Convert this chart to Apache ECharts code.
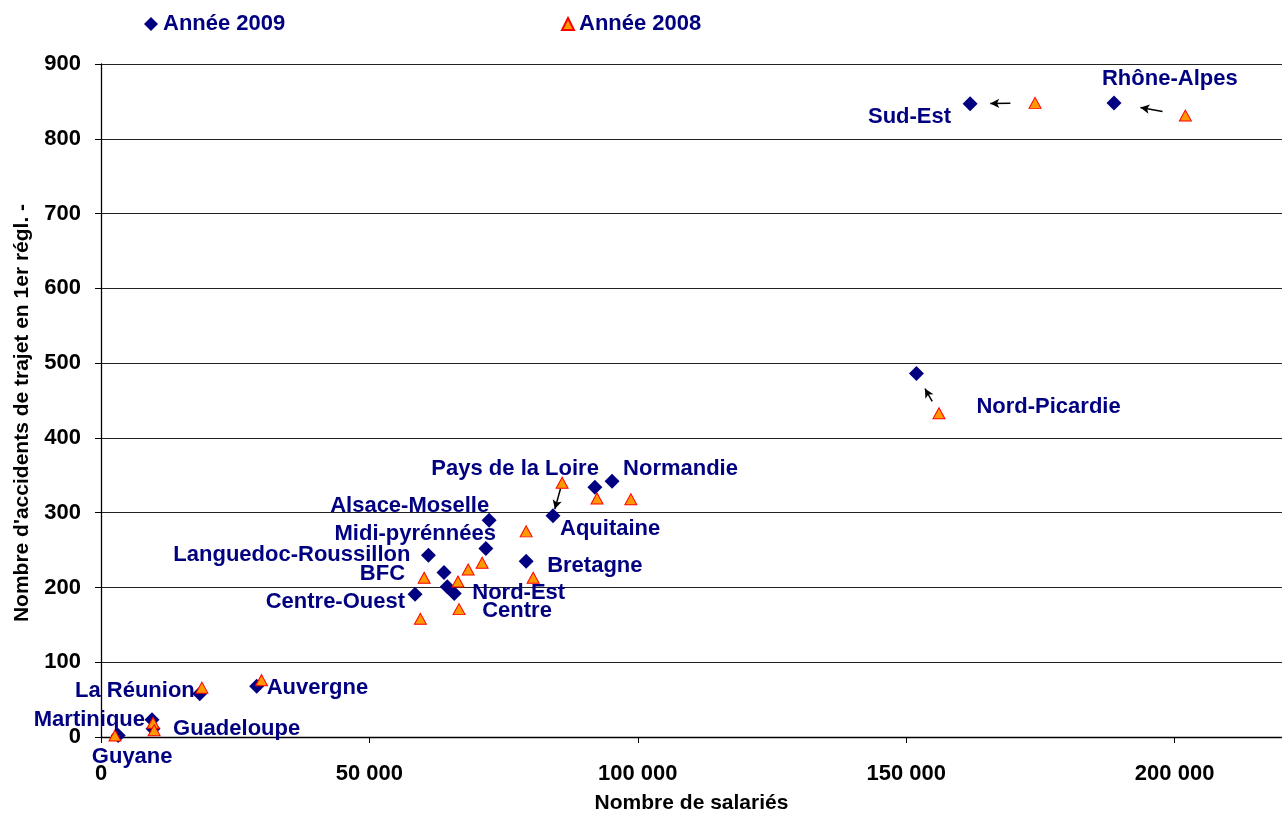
<!DOCTYPE html>
<html>
<head>
<meta charset="utf-8">
<title>Accidents de trajet</title>
<script src="https://cdn.jsdelivr.net/npm/echarts@6.0.0/dist/echarts.min.js"></script>
<style>
  html, body { margin: 0; padding: 0; background: #fff; }
  #chart { width: 1282px; height: 814px; }
</style>
</head>
<body>
<div id="chart"></div>
<script>
// régions (même ordre dans toutes les listes)
const regions = ['Rhône-Alpes', 'Sud-Est', 'Nord-Picardie', 'Normandie', 'Pays de la Loire',
  'Aquitaine', 'Alsace-Moselle', 'Midi-pyrénnées', 'Languedoc-Roussillon', 'BFC',
  'Nord-Est', 'Centre', 'Centre-Ouest', 'Bretagne', 'La Réunion',
  'Auvergne', 'Martinique', 'Guadeloupe', 'Guyane'];

// année 2009
const salaries2009 = [188700, 161900, 151900, 95200, 92000, 84200, 72300, 71700, 61000, 63900,
  64500, 65800, 58500, 79200, 18400, 29000, 9500, 9700, 3200];
const accidents2009 = [848, 847, 486, 342, 334, 296, 290, 252, 243, 220,
  201, 192, 191, 235, 58, 68, 23, 11, 2];

// année 2008
const salaries2008 = [202000, 174000, 156100, 98700, 92400, 85900, 79200, 71000, 60200, 68400,
  66500, 66700, 59500, 80500, 18800, 29900, 9700, 9900, 2600];
const accidents2008 = [831, 848, 433, 318, 319, 340, 275, 233, 213, 224,
  208, 171, 158, 213, 66, 76, 19, 9, 2];

const xTicks = [0, 50000, 100000, 150000, 200000];

// flèches 2008 -> 2009 : [indice région, début, fin] (fraction du trajet)
const arrows = [[0, 0.32, 0.63], [1, 0.38, 0.69], [2, 0.3, 0.62], [5, 0.18, 0.8]];

// placement des étiquettes autour du losange 2009 : [align, dx, dy]
const labelPlaces = [
  ['left', -12, -24], ['right', -19, 13], ['left', 60, 33], ['left', 11, -12], ['right', 4, -18],
  ['left', 7, 13], ['right', 0, -14], ['right', 10, -15], ['right', -18, 0], ['right', -39, 1],
  ['left', 25, 6], ['left', 28, 18], ['right', -10, 8], ['left', 21, 5], ['right', -5, -3],
  ['left', 10, 2], ['right', -7, 0], ['left', 20, 0], ['center', 14, 21]
];

const FONT = 'Liberation Sans, Arial, sans-serif';
const NAVY = '#000080';

const fmt = v => String(v).replace(/\B(?=(\d{3})+(?!\d))/g, ' ');

const pts2009 = regions.map((r, i) => [salaries2009[i], accidents2009[i]]);
const pts2008 = regions.map((r, i) => [salaries2008[i], accidents2008[i]]);

const arrowLines = arrows.map(([i, t0, t1]) => {
  const a = pts2008[i], b = pts2009[i];
  const at = t => [a[0] + (b[0] - a[0]) * t, a[1] + (b[1] - a[1]) * t];
  return [{ coord: at(t0) }, { coord: at(t1) }];
});

// symbole de 2 px : la position [dx, dy] part du coin haut-gauche (centre - 1)
const labelData = regions.map((name, i) => ({
  name: name,
  value: pts2009[i],
  label: {
    position: [labelPlaces[i][1] + 1, labelPlaces[i][2] + 1],
    align: labelPlaces[i][0]
  }
}));

const chart = echarts.init(document.getElementById('chart'), null, { renderer: 'canvas' });
chart.setOption({
  animation: false,
  backgroundColor: '#fff',
  textStyle: { fontFamily: FONT },
  legend: [
    {
      data: ['Année 2009'],
      left: 139, top: 8,
      itemWidth: 14, itemHeight: 14,
      selectedMode: false,
      textStyle: { color: NAVY, fontWeight: 'bold', fontSize: 22, fontFamily: FONT }
    },
    {
      data: ['Année 2008'],
      left: 556, top: 8,
      itemWidth: 12, itemHeight: 12,
      selectedMode: false,
      textStyle: { color: NAVY, fontWeight: 'bold', fontSize: 22, fontFamily: FONT }
    }
  ],
  grid: { left: 101, right: 0, top: 64, bottom: 77, containLabel: false, outerBoundsMode: 'none' },
  xAxis: {
    type: 'value',
    min: 0, max: 220000, interval: 50000,
    name: 'Nombre de salariés',
    nameLocation: 'middle',
    nameGap: 56,
    nameTextStyle: { color: '#000', fontWeight: 'bold', fontSize: 21, fontFamily: FONT, verticalAlign: 'top' },
    axisLine: { show: true, lineStyle: { color: '#000', width: 1.3 } },
    axisTick: { show: true, length: 6, inside: false, customValues: xTicks, lineStyle: { color: '#000' } },
    axisLabel: {
      color: '#000', fontWeight: 'bold', fontSize: 22, fontFamily: FONT, margin: 26,
      customValues: xTicks, formatter: fmt
    },
    splitLine: { show: false }
  },
  yAxis: {
    type: 'value',
    min: 0, max: 900, interval: 100,
    name: "Nombre d'accidents de trajet en 1er régl. -",
    nameLocation: 'middle',
    nameGap: 68,
    nameRotate: 90,
    nameTextStyle: {
      color: '#000', fontWeight: 'bold', fontSize: 21, fontFamily: FONT,
      padding: [0, 25, 0, 0]
    },
    axisLine: { show: true, lineStyle: { color: '#000', width: 1.3 } },
    axisTick: { show: true, length: 6, inside: false, lineStyle: { color: '#000' } },
    axisLabel: { color: '#000', fontWeight: 'bold', fontSize: 22, fontFamily: FONT, margin: 20 },
    splitLine: { show: true, lineStyle: { color: '#222', width: 1.2 } }
  },
  series: [
    {
      name: 'Année 2009',
      type: 'scatter',
      symbol: 'diamond',
      symbolSize: 15,
      itemStyle: { color: NAVY, opacity: 1 },
      data: pts2009
    },
    {
      name: 'Année 2008',
      type: 'scatter',
      symbol: 'triangle',
      symbolSize: [12, 11],
      itemStyle: { color: '#FF9900', borderColor: '#FF0000', borderWidth: 1, opacity: 1 },
      data: pts2008,
      markLine: {
        silent: true,
        symbol: ['none', 'arrow'],
        symbolSize: [7, 9],
        label: { show: false },
        lineStyle: { color: '#000', width: 1.5, type: 'solid' },
        data: arrowLines
      }
    },
    {
      name: 'labels',
      type: 'scatter',
      z: 5,
      silent: true,
      symbol: 'rect',
      symbolSize: 2,
      itemStyle: { color: 'rgba(255,255,255,0)', opacity: 1 },
      label: {
        show: true,
        verticalAlign: 'middle',
        formatter: p => p.name,
        color: NAVY,
        opacity: 1,
        textBorderWidth: 0,
        fontWeight: 'bold',
        fontSize: 22,
        fontFamily: FONT
      },
      labelLayout: { hideOverlap: false },
      data: labelData
    }
  ]
});
</script>
</body>
</html>
